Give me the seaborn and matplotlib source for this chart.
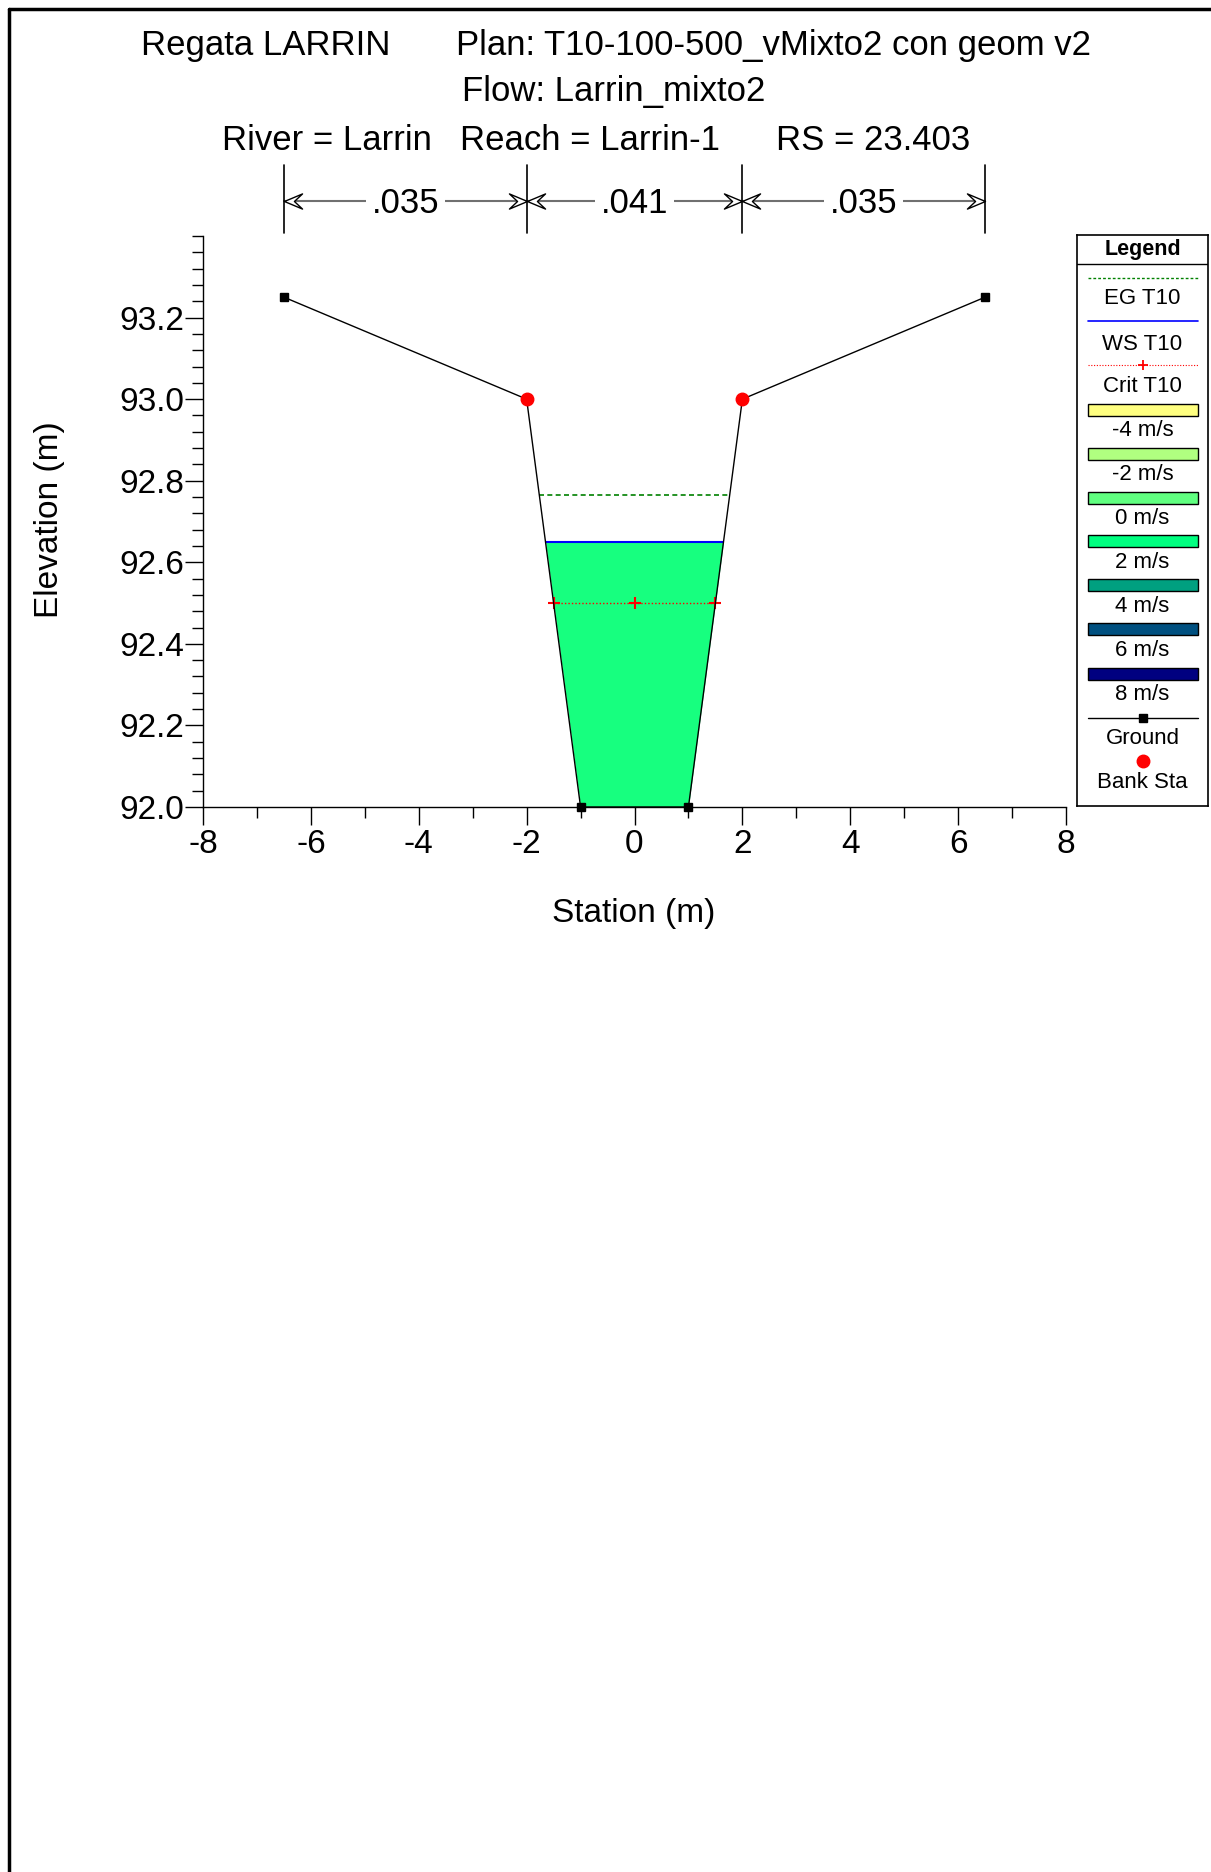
import matplotlib
matplotlib.use("Agg")
import matplotlib.pyplot as plt
import seaborn as sns
import numpy as np
import pandas as pd
from matplotlib.lines import Line2D
from matplotlib.patches import Rectangle
from matplotlib.path import Path
from matplotlib.ticker import MultipleLocator, FormatStrFormatter, FixedLocator

# ---------------- data ----------------
ground_station = [-6.5, -2.0, -1.0, 1.0, 2.0, 6.5]
ground_elev = [93.25, 93.0, 92.0, 92.0, 93.0, 93.25]
bank_station = [-2.0, 2.0]
bank_elev = [93.0, 93.0]
ws_elev = 92.65
eg_elev = 92.765
crit_elev = 92.50
mann_bounds = [-6.5, -2.0, 2.0, 6.5]
mann_values = [".035", ".041", ".035"]
y_tick_values = [92.0, 92.2, 92.4, 92.6, 92.8, 93.0, 93.2]
legend_labels = ["EG T10", "WS T10", "Crit T10", "-4 m/s", "-2 m/s", "0 m/s",
                 "2 m/s", "4 m/s", "6 m/s", "8 m/s", "Ground", "Bank Sta"]
vel_colors = ["#FFFF80", "#B0FF80", "#60FF80", "#00FF80", "#00A080", "#005080", "#000080"]
water_color = "#17FF7F"

sns.set_style("white")
plt.rcParams["font.family"] = ["Liberation Sans", "DejaVu Sans"]
plt.rcParams["text.color"] = "black"
plt.rcParams["axes.labelcolor"] = "black"
plt.rcParams["xtick.color"] = "black"
plt.rcParams["ytick.color"] = "black"

W, H = 1211, 1872
fig = plt.figure(figsize=(W / 100, H / 100), dpi=100)

def fx(px):
    return px / W

def fy(py):
    return 1 - py / H

# outer frame
fig.add_artist(Line2D([fx(9), fx(9)], [fy(9), 0], color="black", lw=2.5))
fig.add_artist(Line2D([fx(9), 1.0], [fy(9), fy(9)], color="black", lw=2.5))

# titles
tfs = 25
fig.text(fx(141), fy(45), "Regata LARRIN", fontsize=tfs, va="center", ha="left")
fig.text(fx(456), fy(45), "Plan: T10-100-500_vMixto2 con geom v2", fontsize=tfs, va="center", ha="left")
fig.text(fx(614), fy(92), "Flow: Larrin_mixto2", fontsize=tfs, va="center", ha="center")
fig.text(fx(222), fy(140), "River = Larrin", fontsize=tfs, va="center", ha="left")
fig.text(fx(460), fy(140), "Reach = Larrin-1", fontsize=tfs, va="center", ha="left")
fig.text(fx(776), fy(140), "RS = 23.403", fontsize=tfs, va="center", ha="left")

# main axes
ax_l, ax_r, ax_t, ax_b = 203, 1066, 236, 807
ax = fig.add_axes([fx(ax_l), fy(ax_b), (ax_r - ax_l) / W, (ax_b - ax_t) / H])

gx = np.array(ground_station)
gy = np.array(ground_elev)

# water fill
ax.fill_between(gx, gy, ws_elev, where=gy < ws_elev, interpolate=True,
                color=water_color, lw=0, zorder=1)

def wet_extent(level):
    xl = np.interp(level, [gy[2], gy[1]], [gx[2], gx[1]])
    xr = np.interp(level, [gy[3], gy[4]], [gx[3], gx[4]])
    return xl, xr

xl, xr = wet_extent(eg_elev)
ax.plot([xl, xr], [eg_elev, eg_elev], color="#008000", lw=1.2, ls=(0, (3, 2)), zorder=3)
xl, xr = wet_extent(ws_elev)
ax.plot([xl, xr], [ws_elev, ws_elev], color="#0000FF", lw=1.5, zorder=3)
xl, xr = wet_extent(crit_elev)
ax.plot([xl, xr], [crit_elev, crit_elev], color="#FF0000", lw=1.0, ls=(0, (1, 1.5)), zorder=3)
ax.plot([xl, (xl + xr) / 2, xr], [crit_elev] * 3, ls="none", marker="+", color="#FF0000",
        ms=8, mew=1.5, zorder=3)

df = pd.DataFrame({"Station": ground_station, "Elevation": ground_elev})
sns.lineplot(data=df, x="Station", y="Elevation", ax=ax, color="black", lw=1.0,
             sort=False, zorder=4)
sq = [i for i in range(len(gx)) if gx[i] not in bank_station]
ax.plot(gx[sq], gy[sq], ls="none", marker="s", ms=5.5, color="black", zorder=5, clip_on=False)
ax.plot(bank_station, bank_elev, ls="none", marker="o", ms=9, color="#FF0000", zorder=6)

ax.set_xlim(-8, 8)
ax.set_ylim(92.0, 93.4)
ax.xaxis.set_major_locator(MultipleLocator(2))
ax.xaxis.set_minor_locator(MultipleLocator(1))
ax.yaxis.set_major_locator(FixedLocator(y_tick_values))
ax.yaxis.set_minor_locator(MultipleLocator(0.04))
ax.yaxis.set_major_formatter(FormatStrFormatter("%.1f"))
ax.xaxis.set_major_formatter(FormatStrFormatter("%g"))
for s in ["top", "right"]:
    ax.spines[s].set_visible(False)
for s in ["left", "bottom"]:
    ax.spines[s].set_color("black")
    ax.spines[s].set_linewidth(1.0)
ax.tick_params(axis="both", which="major", direction="out", length=13, width=1,
               labelsize=24, colors="black", left=True, bottom=True)
ax.tick_params(axis="y", which="major", pad=0.5)
ax.tick_params(axis="x", which="major", pad=3)
ax.tick_params(axis="both", which="minor", direction="out", length=8, width=1,
               colors="black", left=True, bottom=True)
ax.set_xlabel("Station (m)", fontsize=24)
ax.set_ylabel("Elevation (m)", fontsize=24)
ax.xaxis.set_label_coords((634 - ax_l) / (ax_r - ax_l), (ax_b - 898) / (ax_b - ax_t))
ax.yaxis.set_label_coords((65 - ax_l) / (ax_r - ax_l), (ax_b - 520) / (ax_b - ax_t))
ax.grid(False)

# Manning's n markers above the plot
tr = ax.get_xaxis_transform()
h = ax_b - ax_t
y_arrow = (ax_b - 200.5) / h
y_text = (ax_b - 203.5) / h
y_top = (ax_b - 165) / h
y_bot = (ax_b - 233) / h

k = 0.42
notch = 0.55
head_right = Path([(0, 0), (-1, k), (-notch, 0), (-1, -k), (0, 0)],
                  [Path.MOVETO, Path.LINETO, Path.LINETO, Path.LINETO, Path.CLOSEPOLY])
head_left = Path([(0, 0), (1, k), (notch, 0), (1, -k), (0, 0)],
                 [Path.MOVETO, Path.LINETO, Path.LINETO, Path.LINETO, Path.CLOSEPOLY])

for b in mann_bounds:
    ax.plot([b, b], [y_bot, y_top], transform=tr, color="black", lw=1.2, clip_on=False, zorder=8)
for i, v in enumerate(mann_values):
    a, b = mann_bounds[i], mann_bounds[i + 1]
    c = (a + b) / 2
    ax.plot([a, b], [y_arrow, y_arrow], transform=tr, color="#707070", lw=1.5,
            clip_on=False, zorder=7)
    ax.plot([a], [y_arrow], transform=tr, marker=head_left, ms=26, mfc="white",
            mec="black", mew=1.0, ls="none", clip_on=False, zorder=9)
    ax.plot([b], [y_arrow], transform=tr, marker=head_right, ms=26, mfc="white",
            mec="black", mew=1.0, ls="none", clip_on=False, zorder=9)
    ax.text(c, y_text, v, transform=tr, fontsize=25, ha="center", va="center",
            bbox=dict(facecolor="white", edgecolor="none", pad=4), clip_on=False, zorder=10)

# legend panel
lg_l, lg_r, lg_t, lg_b = 1077, 1208, 235, 806
lax = fig.add_axes([fx(lg_l), fy(lg_b), (lg_r - lg_l) / W, (lg_b - lg_t) / H])
lax.set_xlim(0, lg_r - lg_l)
lax.set_ylim(lg_b - lg_t, 0)
lax.set_xticks([])
lax.set_yticks([])
for s in lax.spines.values():
    s.set_visible(True)
    s.set_color("black")
    s.set_linewidth(1.2)
wl = lg_r - lg_l
lax.text(wl / 2, 249 - lg_t, "Legend", fontsize=15.5, fontweight="bold", ha="center", va="center")
lax.plot([0, wl], [264 - lg_t, 264 - lg_t], color="black", lw=1.0)

x0, x1 = 11, 121
sample_y = [278, 321, 365, 410, 454, 498, 541, 585, 629, 674, 718, 761]
text_y = [299, 344, 387, 431, 475, 518, 562, 606, 651, 695, 739, 782]
sample_y = [v - lg_t for v in sample_y]
text_y = [v - lg_t for v in text_y]

lax.plot([x0, x1], [sample_y[0]] * 2, color="#008000", lw=1.0, ls=(0, (2, 1.5)))
lax.plot([x0, x1], [sample_y[1]] * 2, color="#0000FF", lw=1.2)
lax.plot([x0, x1], [sample_y[2]] * 2, color="#FF0000", lw=0.8, ls=(0, (1, 1.5)))
lax.plot([(x0 + x1) / 2], [sample_y[2]], marker="+", color="#FF0000", ms=7, mew=1.3)
for j, col in enumerate(vel_colors):
    yc = sample_y[3 + j]
    lax.add_patch(Rectangle((x0, yc - 6), x1 - x0, 12, facecolor=col,
                            edgecolor="black", lw=1.0))
lax.plot([x0, x1], [sample_y[10]] * 2, color="black", lw=1.0)
lax.plot([(x0 + x1) / 2], [sample_y[10]], marker="s", color="black", ms=5.5)
lax.plot([(x0 + x1) / 2], [sample_y[11]], marker="o", color="#FF0000", ms=9, ls="none")
for lab, ty in zip(legend_labels, text_y):
    lax.text(wl / 2, ty, lab, fontsize=16, ha="center", va="center")

fig.savefig("out.png", dpi=100)
